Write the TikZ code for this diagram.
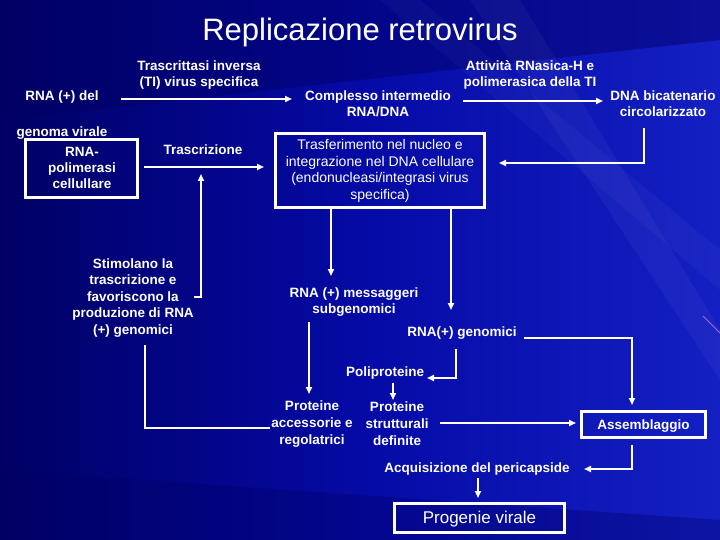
\documentclass[tikz,border=0pt]{standalone}
\usepackage{fontspec}
\setmainfont{Liberation Sans}
\usetikzlibrary{arrows.meta}
\definecolor{bgdark}{RGB}{0,0,100}
\definecolor{bgmid}{RGB}{5,10,165}
\definecolor{bglight}{RGB}{20,32,195}
\begin{document}
\begin{tikzpicture}[x=1pt,y=-1pt,
  lbl/.style={text=white,font=\fontsize{13.5}{16}\selectfont\bfseries,align=center,inner sep=0pt},
  boxtxt/.style={text=white,font=\fontsize{14}{16.5}\selectfont,align=center,inner sep=0pt},
  wbox/.style={draw=white,line width=3.4pt,minimum width=#1,inner sep=0pt},
  conn/.style={draw=white,line width=1.7pt},
  arr/.style={conn,-{Triangle[length=7pt,width=6pt]}}]
% background
\useasboundingbox (0,0) rectangle (720,540);
\shade[left color=bgdark,right color=bglight,middle color=bgmid] (0,0) rectangle (720,540);
\fill[bgdark,opacity=0.45] (0,0) -- (720,0) -- (720,40) -- (0,120) -- cycle;
\fill[white,opacity=0.04] (470,0) -- (520,0) -- (720,330) -- (720,380) -- cycle;
\fill[white,opacity=0.03] (380,0) -- (420,0) -- (720,250) -- (720,290) -- cycle;
\fill[bgdark,opacity=0.35] (0,470) -- (720,520) -- (720,540) -- (0,540) -- cycle;
\draw[white!60!magenta,opacity=0.6,line width=1pt] (703,316) -- (720,333);
% title
\node[text=white,font=\fontsize{31}{34}\selectfont,inner sep=0pt] (title) at (360,32) {Replicazione retrovirus};
% text nodes
\node[lbl] (rnadel) at (62,97) {RNA (+) del};
\node[lbl] (genvir) at (62,133) {genoma virale};
\node[lbl] (trinv) at (199,75) {Trascrittasi inversa\\(TI) virus specifica};
\node[lbl] (compl) at (378,104) {Complesso intermedio\\RNA/DNA};
\node[lbl] (attiv) at (530,75) {Attività RNasica-H e\\polimerasica della TI};
\node[lbl] (dnabic) at (663,104) {DNA bicatenario\\circolarizzato};
\node[wbox=209pt,minimum height=74pt] (trasf) at (380,170.5) {};
\node[boxtxt] (trasft) at (380,171) {Trasferimento nel nucleo e\\integrazione nel DNA cellulare\\(endonucleasi/integrasi virus\\specifica)};
\node[wbox=112pt,minimum height=58pt] (rnapol) at (81.5,168.5) {};
\node[lbl] (rnapolt) at (82,168) {RNA-\\polimerasi\\cellullare};
\node[lbl] (trascr) at (203,150) {Trascrizione};
\node[lbl,font=\fontsize{13.5}{16.5}\selectfont\bfseries] (stim) at (133,298) {Stimolano la\\trascrizione e\\favoriscono la\\produzione di RNA\\(+) genomici};
\node[lbl] (mess) at (354,302) {RNA (+) messaggeri\\subgenomici};
\node[lbl] (genom) at (462,333) {RNA(+) genomici};
\node[lbl] (polip) at (385,373) {Poliproteine};
\node[lbl,font=\fontsize{13.5}{17}\selectfont\bfseries] (protacc) at (312,424) {Proteine\\accessorie e\\regolatrici};
\node[lbl,font=\fontsize{13.5}{17}\selectfont\bfseries] (protstr) at (397,424) {Proteine\\strutturali\\definite};
\node[wbox=124pt,minimum height=26pt] (assem) at (643.5,424.5) {};
\node[lbl] (assemt) at (643.5,426) {Assemblaggio};
\node[lbl] (acqui) at (477,469) {Acquisizione del pericapside};
\node[wbox=170pt,minimum height=29pt] (prog) at (479.5,518) {};
\node[text=white,font=\fontsize{17}{20}\selectfont,inner sep=0pt] (progt) at (479.5,519) {Progenie virale};
% coordinates for connector ends
\coordinate (a1s) at (121,99);   \coordinate (a1e) at (292,99);
\coordinate (a2s) at (463,101);  \coordinate (a2e) at (603,101);
\coordinate (a3s) at (644,128);  \coordinate (a3m) at (644,163); \coordinate (a3e) at (499,163);
\coordinate (a4s) at (144,167);  \coordinate (a4e) at (264,167);
\coordinate (a5s) at (194,297);  \coordinate (a5m) at (201,297); \coordinate (a5e) at (201,174);
\coordinate (a6e) at (331,276);
\coordinate (a7e) at (451,310);
\coordinate (a8s) at (309,322);  \coordinate (a8e) at (309,394);
\coordinate (a9s) at (524,338);  \coordinate (a9m) at (632,338); \coordinate (a9e) at (632,405);
\coordinate (a10s) at (456,349); \coordinate (a10m) at (456,378); \coordinate (a10e) at (427,378);
\coordinate (a11s) at (393,383); \coordinate (a11e) at (393,400);
\coordinate (a12s) at (440,423); \coordinate (a12e) at (576,423);
\coordinate (a13s) at (632,445); \coordinate (a13m) at (632,469); \coordinate (a13e) at (584,469);
\coordinate (a14s) at (478,478); \coordinate (a14e) at (478,498);
\coordinate (a15s) at (270,428); \coordinate (a15m) at (145,428); \coordinate (a15e) at (145,345);
% connectors
\draw[arr] (a1s) -- (a1e);
\draw[arr] (a2s) -- (a2e);
\draw[arr] (a3s) -- (a3m) -- (a3e);
\draw[arr] (a4s) -- (a4e);
\draw[arr] (a5s) -- (a5m) -- (a5e);
\draw[arr] (trasf.south -| a6e) -- (a6e);
\draw[arr] (trasf.south -| a7e) -- (a7e);
\draw[arr] (a8s) -- (a8e);
\draw[arr] (a9s) -- (a9m) -- (a9e);
\draw[arr] (a10s) -- (a10m) -- (a10e);
\draw[arr] (a11s) -- (a11e);
\draw[arr] (a12s) -- (a12e);
\draw[arr] (a13s) -- (a13m) -- (a13e);
\draw[arr] (a14s) -- (a14e);
\draw[conn] (a15s) -- (a15m) -- (a15e);
\end{tikzpicture}
\end{document}
